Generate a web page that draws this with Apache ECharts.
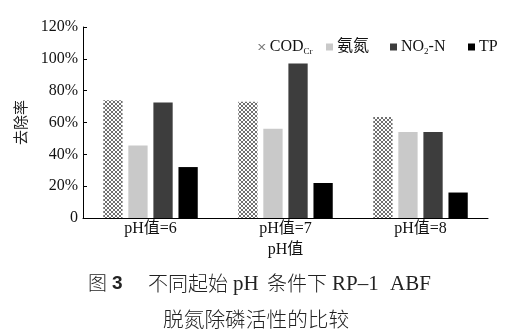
<!DOCTYPE html>
<html><head><meta charset="utf-8">
<script src="https://cdn.jsdelivr.net/npm/echarts@6/dist/echarts.min.js"></script>
<style>html,body{margin:0;padding:0;background:#fff}#c{width:511px;height:336px}</style>
</head><body><div id="c"></div>
<script>
const categories = ['pH值=6', 'pH值=7', 'pH值=8'];
const codValues = [74, 73, 63.5];
const ammoniaValues = [45.5, 56, 54];
const no2Values = [72.5, 97, 54];
const tpValues = [32, 22, 16];
const yTicks = [0, 20, 40, 60, 80, 100, 120];

const FONT = "'Liberation Serif','Noto Sans CJK SC',serif";
const CJK = "'Noto Sans CJK SC',sans-serif";

function hatch() {
  const c = document.createElement('canvas');
  c.width = 4; c.height = 4;
  const g = c.getContext('2d');
  g.fillStyle = '#ffffff'; g.fillRect(0, 0, 4, 4);
  g.fillStyle = '#707070';
  const pts = [[0,0],[1,1],[2,2],[3,3],[3,0],[2,1],[1,2],[0,3]];
  pts.forEach(p => g.fillRect(p[0], p[1], 1, 1));
  return c;
}
const pat = { image: hatch(), repeat: 'repeat' };

const chart = echarts.init(document.getElementById('c'), null, { renderer: 'canvas' });
const ts = { fontFamily: FONT, fontSize: 16, color: '#111' };
const legendBase = { top: 34, itemWidth: 7, itemHeight: 7, itemGap: 4, icon: 'rect',
  textStyle: Object.assign({}, ts, { padding: [0, 0, 0, -1] }) };
chart.setOption({
  animation: false,
  grid: { left: 83, right: 23, top: 27, bottom: 118, containLabel: false },
  legend: [
    Object.assign({}, legendBase, { left: 253, data: ['COD'], itemWidth: 8, itemHeight: 6,
      icon: 'path://M0,0L2,0L5,3L8,0L10,0L6,4L10,8L8,8L5,5L2,8L0,8L4,4Z',
      itemStyle: { color: '#777' },
      formatter: () => '{a|COD}{b|Cr}',
      textStyle: Object.assign({}, legendBase.textStyle, { rich: {
        a: ts,
        b: { fontFamily: FONT, fontSize: 9, color: '#111', padding: [9, 0, 0, 0] } } }) }),
    Object.assign({}, legendBase, { left: 321, data: ['氨氮'] }),
    Object.assign({}, legendBase, { left: 385, data: ['NO2-N'],
      formatter: () => '{a|NO}{b|2}{a|-N}',
      textStyle: Object.assign({}, legendBase.textStyle, { rich: {
        a: ts,
        b: { fontFamily: FONT, fontSize: 9, color: '#111', padding: [9, 0, 0, 0] } } }) }),
    Object.assign({}, legendBase, { left: 463, data: ['TP'] })
  ],
  xAxis: {
    type: 'category', data: categories,
    name: 'pH值', nameLocation: 'middle', nameGap: 20,
    nameTextStyle: ts,
    axisLine: { lineStyle: { color: '#000', width: 1 } },
    axisTick: { show: false },
    axisLabel: Object.assign({}, ts, { margin: 3 })
  },
  yAxis: {
    type: 'value', min: 0, max: 120, interval: 20,
    name: '去除率', nameLocation: 'middle', nameGap: 45, nameRotate: 90,
    nameTextStyle: { fontFamily: FONT, fontSize: 15, color: '#222' },
    axisLine: { show: true, lineStyle: { color: '#000', width: 1 } },
    axisTick: { show: true, inside: true, length: 4, lineStyle: { color: '#000' } },
    splitLine: { show: false },
    axisLabel: Object.assign({}, ts, { margin: 5,
      formatter: v => (yTicks.includes(v) ? (v === 0 ? '0' : v + '%') : '') })
  },
  series: [
    { name: 'COD', type: 'bar', data: codValues, barGap: '30%', barCategoryGap: '30%',
      itemStyle: { color: pat } },
    { name: '氨氮', type: 'bar', data: ammoniaValues, itemStyle: { color: '#c9c9c9' } },
    { name: 'NO2-N', type: 'bar', data: no2Values, itemStyle: { color: '#3d3d3d' } },
    { name: 'TP', type: 'bar', data: tpValues, itemStyle: { color: '#000' } }
  ],
  graphic: [
    { type: 'text', x: 88, y: 283, style: { text: '图', font: "300 19px " + CJK, fill: '#222', verticalAlign: 'middle' } },
    { type: 'text', x: 112, y: 284, style: { text: '3', font: "bold 19px 'Liberation Sans',sans-serif", fill: '#222', verticalAlign: 'middle' } },
    { type: 'text', x: 148, y: 283, style: { text: '不同起始', font: "300 20px " + CJK, fill: '#222', verticalAlign: 'middle' } },
    { type: 'text', x: 233, y: 284, style: { text: 'pH', font: "21px " + FONT, fill: '#222', verticalAlign: 'middle' } },
    { type: 'text', x: 267, y: 283, style: { text: '条件下', font: "300 20px " + CJK, fill: '#222', verticalAlign: 'middle' } },
    { type: 'text', x: 332, y: 284, style: { text: 'RP–1', font: "21px " + FONT, fill: '#222', verticalAlign: 'middle' } },
    { type: 'text', x: 390, y: 284, style: { text: 'ABF', font: "21px " + FONT, fill: '#222', verticalAlign: 'middle' } },
    { type: 'text', x: 163, y: 319, style: { text: '脱氮除磷活性的比较', font: "300 20.7px " + CJK, fill: '#222', verticalAlign: 'middle' } }
  ]
});
</script></body></html>
